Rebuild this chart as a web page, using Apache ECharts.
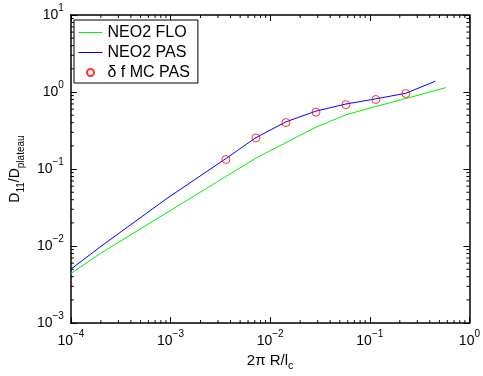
<!DOCTYPE html>
<html>
<head>
<meta charset="utf-8">
<script src="https://cdn.jsdelivr.net/npm/echarts@6/dist/echarts.min.js"></script>
<style>
html,body{margin:0;padding:0;background:#fff;}
#chart{width:483px;height:376px;}
</style>
</head>
<body>
<div id="chart"></div>
<script>
// ---- data ----
const seriesNames = ['NEO2 FLO', 'NEO2 PAS', 'δ f MC PAS'];
const floX = [1e-4, 2e-4, 4.8e-3, 7.6e-3, 2.88e-2, 5.9e-2, 0.58];
const floY = [0.0044, 0.0081, 0.1007, 0.144, 0.35, 0.512, 1.14];
const pasX = [1e-4, 2e-4, 9e-4, 3.6e-3, 7.2e-3, 1.44e-2, 2.88e-2, 5.76e-2, 0.115, 0.23, 0.454];
const pasY = [0.005, 0.0099, 0.0407, 0.137, 0.256, 0.41, 0.565, 0.699, 0.815, 0.964, 1.38];
const mcX = [3.6e-3, 7.2e-3, 1.44e-2, 2.88e-2, 5.76e-2, 0.115, 0.23];
const mcY = [0.133, 0.254, 0.401, 0.548, 0.686, 0.80, 0.955];
const X_MIN = 1e-4, X_MAX = 1;
const Y_MIN = 1e-3, Y_MAX = 10;
const xMinorTicks = [];
for (let k = -4; k <= -1; k++) for (let m = 2; m <= 9; m++) xMinorTicks.push(m * Math.pow(10, k));
const yMinorTicks = [];
for (let k = -3; k <= 0; k++) for (let m = 2; m <= 9; m++) yMinorTicks.push(m * Math.pow(10, k));

// ---- chart ----
const FONT = 'Liberation Sans, Arial, Helvetica, sans-serif';
const zip = (a, b) => a.map((v, i) => [v, b[i]]);
const powLabel = v => {
  const e = Math.round(Math.log10(v));
  return '{b|10}{s|' + (e < 0 ? '\u2212' + (-e) : e) + '}';
};
const labelRich = {
  b: {fontSize: 14, fontFamily: FONT, color: '#000'},
  s: {fontSize: 10, fontFamily: FONT, color: '#000', padding: [0, 0, 14, 0]}
};
const chart = echarts.init(document.getElementById('chart'), null, {renderer: 'canvas'});

function minorTick(isX) {
  return function (params, api) {
    const L = 3;
    if (isX) {
      const v = api.value(0);
      const pb = api.coord([v, Y_MIN]);
      const pt = api.coord([v, Y_MAX]);
      return {type: 'group', children: [
        {type: 'line', shape: {x1: pb[0], y1: pb[1], x2: pb[0], y2: pb[1] - L}, style: {stroke: '#000', lineWidth: 1}},
        {type: 'line', shape: {x1: pt[0], y1: pt[1], x2: pt[0], y2: pt[1] + L}, style: {stroke: '#000', lineWidth: 1}}
      ]};
    } else {
      const v = api.value(1);
      const pl = api.coord([X_MIN, v]);
      const pr = api.coord([X_MAX, v]);
      return {type: 'group', children: [
        {type: 'line', shape: {x1: pl[0], y1: pl[1], x2: pl[0] + L, y2: pl[1]}, style: {stroke: '#000', lineWidth: 1}},
        {type: 'line', shape: {x1: pr[0], y1: pr[1], x2: pr[0] - L, y2: pr[1]}, style: {stroke: '#000', lineWidth: 1}}
      ]};
    }
  };
}

const axisLine = {show: true, onZero: false, lineStyle: {color: '#000', width: 1.5}};
const axisTick = {show: true, inside: true, length: 6, lineStyle: {color: '#000', width: 1}};

chart.setOption({
  animation: false,
  backgroundColor: '#fff',
  grid: {left: 70, right: 10, top: 15, bottom: 46, containLabel: false},
  legend: {
    data: [
      {name: seriesNames[0], itemStyle: {opacity: 0}},
      {name: seriesNames[1], itemStyle: {opacity: 0}},
      {name: seriesNames[2]}
    ],
    orient: 'vertical',
    left: 74, top: 20,
    itemWidth: 24, itemHeight: 7, itemGap: 4,
    padding: [4.5, 8, 2.5, 4],
    lineStyle: {width: 1},
    borderColor: '#000', borderWidth: 1, backgroundColor: '#fff',
    textStyle: {fontSize: 16, fontFamily: FONT, color: '#000'}
  },
  xAxis: [
    {type: 'log', logBase: 10, min: X_MIN, max: X_MAX, position: 'bottom',
     axisLine, axisTick, splitLine: {show: false}, minorTick: {show: false},
     axisLabel: {margin: 6, formatter: powLabel, rich: labelRich, showMaxLabel: true, showMinLabel: true},
     name: '{b|2π R/l}{sub|c}', nameLocation: 'middle', nameGap: 21,
     nameTextStyle: {rich: {
       b: {fontSize: 15, fontFamily: FONT, color: '#000'},
       sub: {fontSize: 11, fontFamily: FONT, color: '#000', padding: [10, 0, 0, 0]}
     }}},
    {type: 'log', logBase: 10, min: X_MIN, max: X_MAX, position: 'top',
     axisLine, axisTick, splitLine: {show: false}, axisLabel: {show: false}}
  ],
  yAxis: [
    {type: 'log', logBase: 10, min: Y_MIN, max: Y_MAX, position: 'left',
     axisLine, axisTick, splitLine: {show: false}, minorTick: {show: false},
     axisLabel: {margin: 7, formatter: powLabel, rich: labelRich, showMaxLabel: true, showMinLabel: true},
     name: '{b|D}{s|11}{b|/D}{s|plateau}', nameLocation: 'middle', nameGap: 36, nameRotate: 90,
     nameTextStyle: {rich: {
       b: {fontSize: 14, fontFamily: FONT, color: '#000'},
       s: {fontSize: 10, fontFamily: FONT, color: '#000', padding: [12, 0, 0, 0]}
     }}},
    {type: 'log', logBase: 10, min: Y_MIN, max: Y_MAX, position: 'right',
     axisLine, axisTick, splitLine: {show: false}, axisLabel: {show: false}}
  ],
  series: [
    {name: seriesNames[0], type: 'line', data: zip(floX, floY), symbol: 'none',
     lineStyle: {color: '#00ee00', width: 1}, itemStyle: {color: '#00ee00'}, z: 3},
    {name: seriesNames[1], type: 'line', data: zip(pasX, pasY), symbol: 'none',
     lineStyle: {color: '#0000ff', width: 1}, itemStyle: {color: '#0000ff'}, z: 4},
    {name: seriesNames[2], type: 'scatter', data: zip(mcX, mcY), symbol: 'circle', symbolSize: 8,
     itemStyle: {color: 'transparent', borderColor: '#ff0000', borderWidth: 1}, z: 5},
    {type: 'custom', silent: true, data: xMinorTicks.map(v => [v, Y_MIN]), renderItem: minorTick(true), z: 6, clip: false},
    {type: 'custom', silent: true, data: yMinorTicks.map(v => [X_MIN, v]), renderItem: minorTick(false), z: 6, clip: false}
  ]
});
</script>
</body>
</html>
